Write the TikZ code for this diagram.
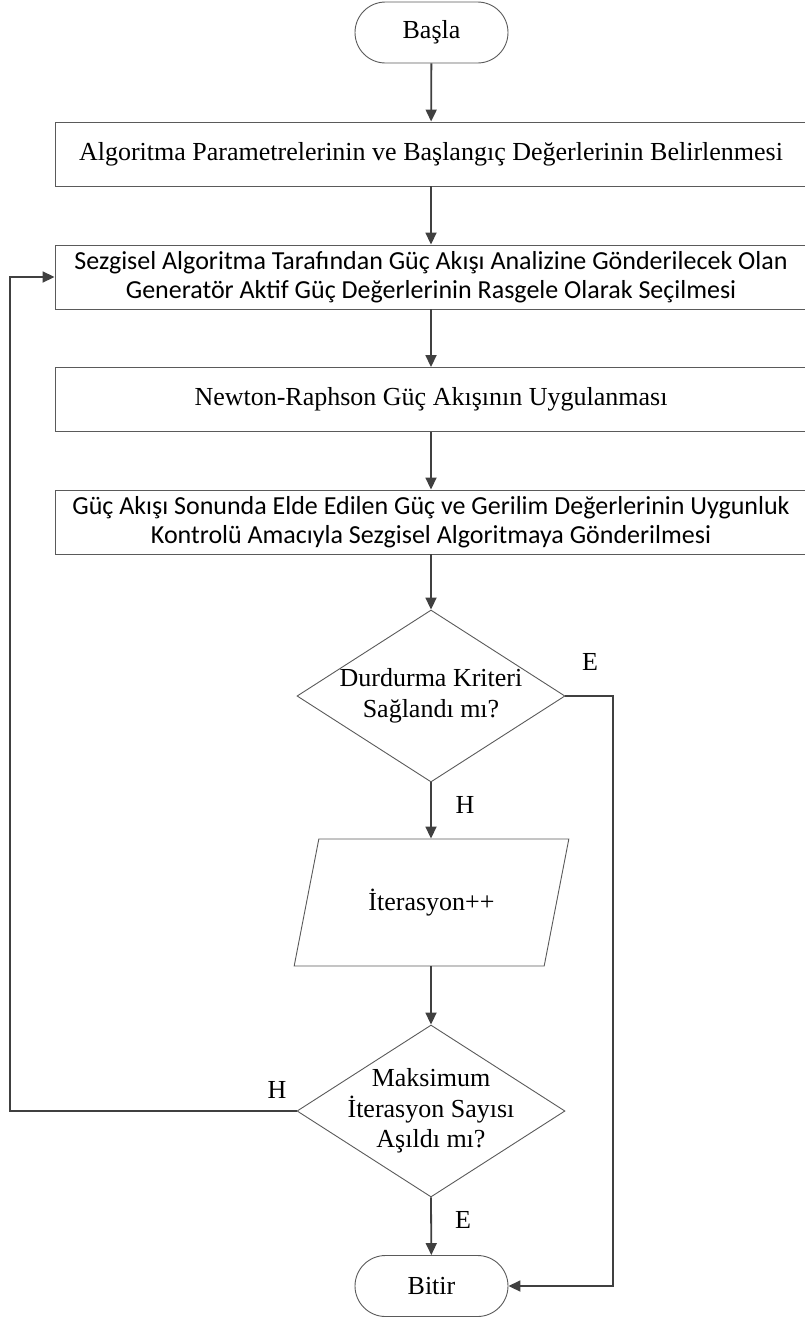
\documentclass[tikz,border=0pt]{standalone}
\usepackage{fontspec}
\setmainfont{Liberation Serif}
\newfontfamily\calfont{Carlito}
\usetikzlibrary{arrows.meta,shapes.geometric}

\definecolor{edgegray}{RGB}{90,90,90}
\definecolor{conngray}{RGB}{64,64,64}

\tikzset{
  base/.style={draw=edgegray, line width=0.9pt, fill=white, inner sep=0pt,
               font=\fontsize{26}{30}\selectfont, align=center},
  term/.style={base, rectangle, rounded corners=30.5pt,
               minimum width=153pt, minimum height=61pt},
  procbox/.style={base, rectangle, minimum width=752pt, minimum height=64pt},
  calbox/.style={procbox, font=\calfont\fontsize{26}{28.5}\selectfont},
  decision/.style={draw=edgegray, line width=0.9pt, diamond, inner sep=0pt,
               minimum width=268pt, minimum height=172pt},
  dtext/.style={font=\fontsize{26}{30.5}\selectfont, align=center, inner sep=0pt},
  iobox/.style={base, trapezium, trapezium left angle=63, trapezium right angle=117,
               trapezium stretches=true, minimum width=275pt, minimum height=127pt},
  conn/.style={draw=conngray, line width=1.8pt,
               -{Triangle[length=12pt,width=11pt]}},
  lbl/.style={font=\fontsize{26}{28}\selectfont, inner sep=0pt}
}

\begin{document}
\begin{tikzpicture}[x=1pt, y=-1pt]
  \useasboundingbox (0,0) rectangle (804,1318);

  % main column
  \node[term] (start) at (431.5,32.5) {Başla};
  \node[procbox] (init) at (431,154)
    {Algoritma Parametrelerinin ve Başlangıç Değerlerinin Belirlenmesi};
  \node[calbox] (select) at (431,277)
    {Sezgisel Algoritma Tarafından Güç Akışı Analizine Gönderilecek Olan\\
     Generatör Aktif Güç Değerlerinin Rasgele Olarak Seçilmesi};
  \node[procbox] (nr) at (431,399.5)
    {Newton-Raphson Güç Akışının Uygulanması};
  \node[calbox] (send) at (431,522)
    {Güç Akışı Sonunda Elde Edilen Güç ve Gerilim Değerlerinin Uygunluk\\
     Kontrolü Amacıyla Sezgisel Algoritmaya Gönderilmesi};

  \node[decision] (stop) at (431,696) {};
  \node[dtext] (stoptxt) at (stop) {Durdurma Kriteri\\Sağlandı mı?};

  \node[iobox] (iter) at (431.5,902.5) {İterasyon++};

  \node[decision] (maxit) at (431,1111) {};
  \node[dtext] (maxittxt) at (maxit) {Maksimum\\İterasyon Sayısı\\Aşıldı mı?};

  \node[term] (end) at (431.5,1286) {Bitir};

  % helper coordinates for the side routes
  \coordinate (leftrail) at (10,0);
  \coordinate (rightrail) at (613,0);

  % straight flow
  \draw[conn] (start) -- (init);
  \draw[conn] (init) -- (select);
  \draw[conn] (select) -- (nr);
  \draw[conn] (nr) -- (send);
  \draw[conn] (send) -- (stop.north);
  \draw[conn] (stop.south) -- (iter.north -| stop.south);
  \draw[conn] (iter.south -| maxit.north) -- (maxit.north);
  \draw[conn] (maxit.south) -- (end);

  % loop back and exit
  \draw[conn] (maxit.west) -- (maxit.west -| leftrail) |- (select.west);
  \draw[conn] (stop.east) -- (stop.east -| rightrail) |- (end.east);

  % branch labels
  \node[lbl] (lblE1) at (590,662) {E};
  \node[lbl] (lblH1) at (465,805) {H};
  \node[lbl] (lblH2) at (277,1090) {H};
  \node[lbl] (lblE2) at (463,1220) {E};
\end{tikzpicture}
\end{document}
